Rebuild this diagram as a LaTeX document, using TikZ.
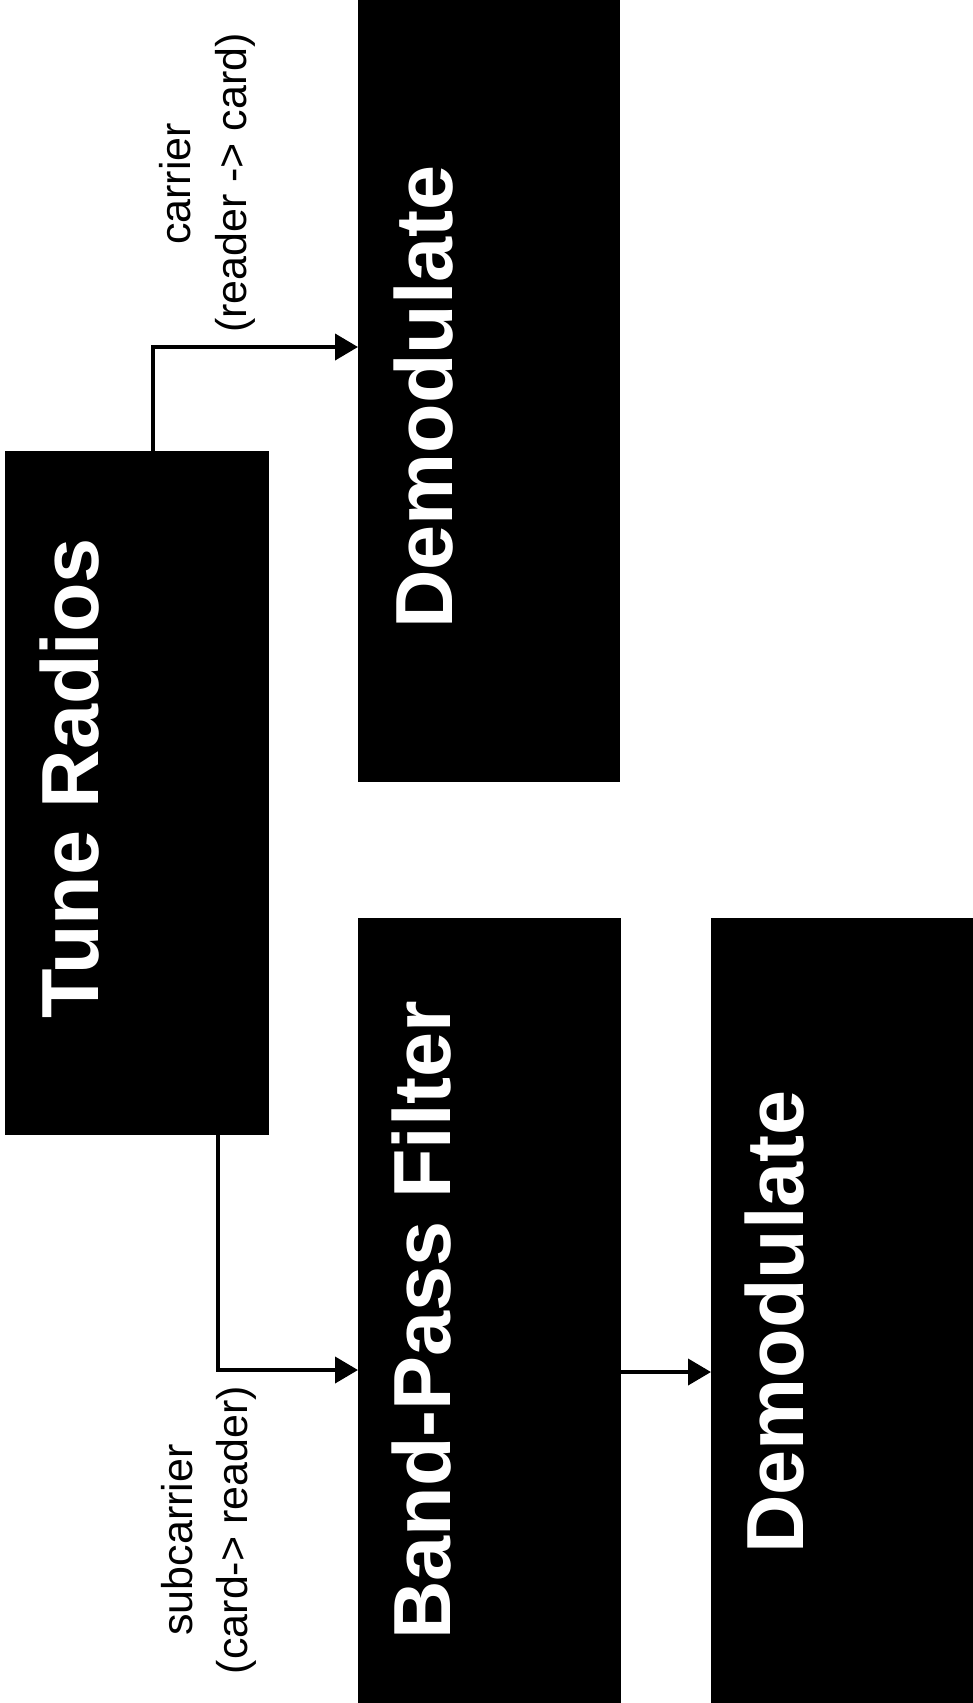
\documentclass[tikz,border=0pt]{standalone}
\usepackage{fontspec}
\setmainfont{Liberation Sans}
\usetikzlibrary{arrows.meta}
\begin{document}
\begin{tikzpicture}[x=1pt,y=-1pt,
  blk/.style={fill=black,draw=none,inner sep=0pt,outer sep=0pt},
  bigtxt/.style={text=white,rotate=90,anchor=base,inner sep=0pt,font=\fontsize{81}{97}\selectfont\bfseries},
  lbl/.style={text=black,rotate=90,anchor=base,inner sep=0pt,font=\fontsize{43}{52}\selectfont},
  conn/.style={line width=4pt,-{Triangle[length=23pt,width=26pt]}}]
\useasboundingbox (0,0) rectangle (973,1703);
\fill[white] (0,0) rectangle (973,1703);
% boxes
\node[blk,minimum width=264pt,minimum height=684pt] (tune) at (137,793) {};
\node[blk,minimum width=262pt,minimum height=782pt] (dem1) at (489,391) {};
\node[blk,minimum width=263pt,minimum height=785pt] (bpf) at (489.5,1310.5) {};
\node[blk,minimum width=262pt,minimum height=785pt] (dem2) at (842,1310.5) {};
% box texts
\node[bigtxt] (tunetxt) at (98,778) {Tune Radios};
\node[bigtxt] (dem1txt) at (452,397) {Demodulate};
\node[bigtxt] (bpftxt) at (450,1320) {Band-Pass Filter};
\node[bigtxt] (dem2txt) at (803,1322) {Demodulate};
% labels
\node[lbl] (carA) at (190,184) {carrier};
\node[lbl] (carB) at (246,183) {(reader -> card)};
\node[lbl] (subA) at (192,1540) {subcarrier};
\node[lbl] (subB) at (247,1530) {(card-> reader)};
% connectors
\draw[conn] ([xshift=16pt]tune.north) |- ([yshift=44pt]dem1.west);
\draw[conn] ([xshift=81pt]tune.south) |- ([yshift=-59.5pt]bpf.west);
\draw[conn] ([yshift=-61.5pt]bpf.east) -- ([yshift=-61.5pt]dem2.west);
\end{tikzpicture}
\end{document}
